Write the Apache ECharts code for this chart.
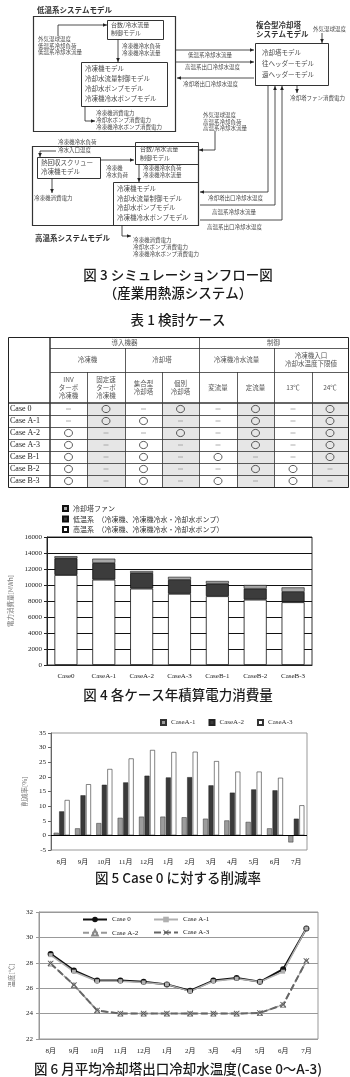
<!DOCTYPE html>
<html>
<head>
<meta charset="utf-8">
<script src="https://cdn.jsdelivr.net/npm/echarts@6/dist/echarts.min.js"></script>
<style>
html,body{margin:0;padding:0;background:#fff}
#main{width:350px;height:1077px}
</style>
</head>
<body>
<div id="main"></div>
<script>
// 図4 各ケース年積算電力消費量 [MWh]
var caseNames = ['Case0', 'CaseA-1', 'CaseA-2', 'CaseA-3', 'CaseB-1', 'CaseB-2', 'CaseB-3'];
var highTempMWh = [11250, 10670, 9550, 8900, 8600, 8170, 7850];
var lowTempMWh = [2100, 2080, 1950, 1750, 1570, 1370, 1300];
var towerFanMWh = [250, 540, 250, 370, 330, 460, 550];

// 図5 削減率 [%]
var months = ['8月', '9月', '10月', '11月', '12月', '1月', '2月', '3月', '4月', '5月', '6月', '7月'];
var cutA1 = [0.9, 2.4, 4.2, 6.0, 6.4, 6.4, 6.2, 5.7, 5.1, 4.6, 2.4, -2.4];
var cutA2 = [8.2, 13.7, 17.3, 18.1, 20.4, 19.8, 19.9, 17.1, 14.6, 15.7, 15.4, 5.7];
var cutA3 = [12.1, 17.5, 22.7, 26.3, 29.2, 28.5, 28.6, 25.4, 21.8, 21.8, 19.7, 10.3];

// 図6 冷却塔出口冷却水温度 [℃]
var tempCase0 = [28.7, 27.4, 26.6, 26.6, 26.5, 26.3, 25.8, 26.6, 26.8, 26.5, 27.5, 30.7];
var tempA1 = [28.6, 27.3, 26.55, 26.55, 26.45, 26.3, 25.75, 26.55, 26.75, 26.5, 27.3, 30.7];
var tempA2 = [27.95, 26.25, 24.25, 24.0, 24.0, 24.0, 24.0, 24.0, 24.0, 24.05, 24.7, 28.15];
var tempA3 = [27.95, 26.25, 24.25, 24.0, 24.0, 24.0, 24.0, 24.0, 24.0, 24.05, 24.7, 28.15];

// 表1 検討ケース
var tableCases = ['Case 0', 'Case A-1', 'Case A-2', 'Case A-3', 'Case B-1', 'Case B-2', 'Case B-3'];
var tableMarks = [
  [0, 1, 0, 1, 0, 1, 0, 1],
  [0, 1, 1, 0, 0, 1, 0, 1],
  [1, 0, 0, 1, 0, 1, 0, 1],
  [1, 0, 1, 0, 0, 1, 0, 1],
  [1, 0, 1, 0, 1, 0, 0, 1],
  [1, 0, 1, 0, 0, 1, 1, 0],
  [1, 0, 1, 0, 1, 0, 1, 0]
];
var headGroup = [['導入機器', 1, 4], ['制御', 5, 8]];
var headSub = [['冷凍機', 1, 2], ['冷却塔', 3, 4], ['冷凍機冷水流量', 5, 6], ['冷凍機入口\n冷却水温度下限値', 7, 8]];
var headItem = ['INV\nターボ\n冷凍機', '固定速\nターボ\n冷凍機', '集合型\n冷却塔', '個別\n冷却塔', '変流量', '定流量', '13℃', '24℃'];

var JP = "'Noto Sans CJK JP'";
var SERIF = "'Liberation Serif', 'Noto Sans CJK JP'";
var LINE = '#333', TXT = '#4a4a4a';

var g = [];

function box(x, y, w, h, lw) {
  g.push({type: 'rect', shape: {x: x + 0.5, y: y + 0.5, width: w, height: h},
    style: {fill: 'none', stroke: LINE, lineWidth: lw || 1}});
}
function t(x, y, s, size, o) {
  o = o || {};
  g.push({type: 'text', x: x, y: y, style: {
    text: s, fontSize: size, fontFamily: o.font || JP, fontWeight: o.weight || 'normal',
    fill: o.color || TXT, align: o.align || 'left', verticalAlign: 'middle', lineHeight: o.lh || size + 2
  }});
}
function lines(x, y0, step, arr, size) {
  arr.forEach(function (s, i) { t(x, y0 + i * step, s, size); });
}
function arrow(pts) {
  var n = pts.length, a = pts[n - 2], b = pts[n - 1];
  var dx = b[0] - a[0], dy = b[1] - a[1], L = Math.sqrt(dx * dx + dy * dy);
  var ux = dx / L, uy = dy / L, h = 4, w = 1.8;
  var bx = b[0] - ux * h, by = b[1] - uy * h;
  g.push({type: 'polyline', shape: {points: pts}, style: {stroke: '#222', lineWidth: 0.8, fill: 'none'}});
  g.push({type: 'polygon', shape: {points: [b, [bx - uy * w, by + ux * w], [bx + uy * w, by - ux * w]]},
    style: {fill: '#222'}});
}
function hline(x1, x2, y, lw, c) {
  g.push({type: 'line', shape: {x1: x1, y1: y, x2: x2, y2: y}, style: {stroke: c || LINE, lineWidth: lw || 0.8}});
}
function vline(x, y1, y2, lw, c) {
  g.push({type: 'line', shape: {x1: x, y1: y1, x2: x, y2: y2}, style: {stroke: c || LINE, lineWidth: lw || 0.8}});
}

// ---- 図3 フロー図 ----
// 低温系
t(37, 10, '低温系システムモデル', 7.5, {weight: 'bold', color: '#333'});
box(33, 16, 142, 115, 1.2);
box(107, 20, 56, 19);
lines(111, 25, 8, ['台数/冷水流量', '制御モデル'], 6);
arrow([[58, 36], [58, 25], [107, 25]]);
lines(38, 39, 6.5, ['外気湿球温度', '低温系冷却負荷', '低温系冷却水流量'], 5.5);
arrow([[118, 39], [118, 62]]);
lines(122, 46, 7, ['冷凍機冷水負荷', '冷凍機冷水流量'], 5.5);
box(81, 62, 86, 44);
lines(85, 68.5, 10, ['冷凍機モデル', '冷却水流量制御モデル', '冷却水ポンプモデル', '冷凍機冷水ポンプモデル'], 6.5);
arrow([[85, 106], [85, 121], [95, 121]]);
lines(96, 113, 7, ['冷凍機消費電力', '冷却水ポンプ消費電力', '冷凍機冷水ポンプ消費電力'], 5.5);

// 複合型冷却塔
t(256, 25, '複合型冷却塔', 7.5, {weight: 'bold', color: '#333'});
t(256, 34, 'システムモデル', 7.5, {weight: 'bold', color: '#333'});
t(313, 29, '外気湿球温度', 5.5);
arrow([[322, 33], [322, 43]]);
box(255, 43, 73, 42);
lines(262, 53, 11, ['冷却塔モデル', '往ヘッダーモデル', '還ヘッダーモデル'], 6.5);
arrow([[176, 50], [254, 50]]);
t(188, 54.5, '低温系冷却水流量', 5.5);
arrow([[176, 62], [254, 62]]);
t(185, 66.5, '高温系出口冷却水温度', 5.5);
arrow([[254, 78], [177, 78]]);
t(183, 84, '冷却塔出口冷却水温度', 5.5);
arrow([[297, 85], [297, 93]]);
t(290, 98, '冷却塔ファン消費電力', 5.5);
arrow([[268, 86], [268, 192], [200, 192]]);
arrow([[200, 205], [275, 205], [275, 86]]);
arrow([[200, 220], [282, 220], [282, 86]]);
t(208, 198, '冷却塔出口冷却水温度', 5.5);
t(212, 212, '高温系冷却水流量', 5.5);
t(207, 227, '高温系出口冷却水温度', 5.5);

// 高温系
lines(203, 115, 6.5, ['外気湿球温度', '高温系冷却負荷', '高温系冷却水流量'], 5.5);
arrow([[215, 131], [215, 150], [199, 150]]);
box(32, 146, 166, 79, 1.2);
lines(58, 141.5, 8, ['冷凍機冷水負荷', '冷水入口温度'], 5.5);
arrow([[56, 151], [40, 151], [40, 157]]);
box(37, 157, 63, 21);
lines(41, 163, 9, ['熱回収スクリュー', '冷凍機モデル'], 6.5);
arrow([[100, 160], [134, 160]]);
lines(106, 168, 7, ['冷凍機', '冷水負荷'], 5.5);
arrow([[52, 178], [52, 193]]);
t(34, 198, '冷凍機消費電力', 5.5);
box(135, 142, 63, 22);
lines(140, 149, 9, ['台数/冷水流量', '制御モデル'], 6);
lines(143, 168, 7, ['冷凍機冷水負荷', '冷凍機冷水流量'], 5.5);
arrow([[139, 164], [139, 182]]);
box(113, 182, 85, 43);
lines(117, 189, 9.5, ['冷凍機モデル', '冷却水流量制御モデル', '冷却水ポンプモデル', '冷凍機冷水ポンプモデル'], 6.5);
arrow([[122, 225], [122, 236], [131, 236]]);
lines(133, 240, 7, ['冷凍機消費電力', '冷却水ポンプ消費電力', '冷凍機冷水ポンプ消費電力'], 5.5);
t(35, 238, '高温系システムモデル', 7.5, {weight: 'bold', color: '#333'});

// ---- キャプション ----
function cap(y, s) { t(178, y, s, 13.5, {align: 'center', color: '#1a1a1a', weight: 500}); }
cap(275, '図 3 シミュレーションフロー図');
cap(293, '（産業用熱源システム）');
cap(320, '表 1 検討ケース');
cap(695, '図 4 各ケース年積算電力消費量');
cap(878, '図 5 Case 0 に対する削減率');
cap(1069, '図 6 月平均冷却塔出口冷却水温度(Case 0～A-3)');

// ---- 表1 ----
var colX = [8, 50, 87, 125, 162, 199, 237, 274, 312, 348];
var rowY = [337, 348, 372, 403];
var RH = 12, tblBottom = 403 + RH * tableCases.length;
[2, 4, 6, 8].forEach(function (c) {
  g.push({type: 'rect', shape: {x: colX[c], y: 403, width: colX[c + 1] - colX[c], height: tblBottom - 403},
    style: {fill: '#e6e6e6'}});
});
function cellText(c0, c1, y0, y1, s) {
  t((colX[c0] + colX[c1 + 1]) / 2, (y0 + y1) / 2, s, 6.5, {align: 'center', color: '#555', lh: 8});
}
headGroup.forEach(function (h) { cellText(h[1], h[2], rowY[0], rowY[1], h[0]); });
headSub.forEach(function (h) { cellText(h[1], h[2], rowY[1], rowY[2], h[0]); });
headItem.forEach(function (s, i) { cellText(i + 1, i + 1, rowY[2], rowY[3], s); });
tableCases.forEach(function (name, r) {
  var cy = 403 + RH * r + RH / 2;
  t(10, cy, name, 8, {font: SERIF, color: '#222'});
  tableMarks[r].forEach(function (m, c) {
    var cx = (colX[c + 1] + colX[c + 2]) / 2;
    if (m) {
      g.push({type: 'ellipse', shape: {cx: cx, cy: cy, rx: 4, ry: 3.6}, style: {fill: 'none', stroke: '#333', lineWidth: 0.8}});
    } else {
      hline(cx - 2.5, cx + 2.5, cy, 0.8, '#999');
    }
  });
});
hline(50, 348, 348.5);
hline(50, 348, 372.5);
hline(8, 348, 403, 1.5);
for (var r = 1; r < tableCases.length; r++) hline(8, 348, 403 + RH * r + 0.5);
vline(50, 337, tblBottom, 1.5);
vline(199.5, 337, tblBottom);
[125, 274].forEach(function (x) { vline(x + 0.5, 348, tblBottom); });
[87, 162, 237, 312].forEach(function (x) { vline(x + 0.5, 372, tblBottom); });
g.push({type: 'rect', shape: {x: 8.5, y: 337.5, width: 340, height: tblBottom - 337},
  style: {fill: 'none', stroke: '#222', lineWidth: 1}});

// ---- チャート ----
var fanName = '冷却塔ファン';
var lowName = '低温系　（冷凍機、冷凍機冷水・冷却水ポンプ）';
var highName = '高温系　（冷凍機、冷凍機冷水・冷却水ポンプ）';
var lab = {fontSize: 7, fontFamily: SERIF, color: '#222'};
function plain(v) { return String(v); }

function lineLegend(name, left, top) {
  return {data: [name], left: left, top: top, padding: 0, itemWidth: 24, itemHeight: 7,
    selectedMode: false, textStyle: {fontSize: 7, fontFamily: SERIF, color: '#222'}};
}

var option = {
  animation: false,
  backgroundColor: '#fff',
  graphic: {elements: g},
  legend: [
    {data: [fanName, lowName, highName], orient: 'vertical', left: 62, top: 505, padding: 0,
      icon: 'rect', itemWidth: 5, itemHeight: 5, itemGap: 3.5, selectedMode: false,
      textStyle: {fontSize: 7, fontFamily: JP, color: '#333'}},
    {data: ['CaseA-1', 'CaseA-2', 'CaseA-3'], left: 160, top: 719, padding: 0,
      icon: 'rect', itemWidth: 5, itemHeight: 5, itemGap: 13, selectedMode: false,
      textStyle: {fontSize: 7, fontFamily: SERIF, color: '#333'}},
    lineLegend('Case 0', 82, 916),
    lineLegend('Case A-1', 153, 916),
    lineLegend('Case A-2', 82, 929),
    lineLegend('Case A-3', 153, 929)
  ],
  grid: [
    {left: 47, top: 537, width: 265, height: 128, show: true, borderColor: '#333', borderWidth: 1, outerBoundsMode: 'none'},
    {left: 51, top: 733, width: 256, height: 117, show: true, borderColor: '#999', borderWidth: 1, outerBoundsMode: 'none'},
    {left: 39, top: 912, width: 279, height: 127, show: true, borderColor: '#999', borderWidth: 1, outerBoundsMode: 'none'}
  ],
  xAxis: [
    {type: 'category', gridIndex: 0, data: caseNames,
      axisLine: {lineStyle: {color: '#222'}}, axisTick: {length: 3, lineStyle: {color: '#222'}},
      axisLabel: Object.assign({margin: 8}, lab)},
    {type: 'category', gridIndex: 1, data: months,
      axisLine: {show: false, onZero: false}, axisTick: {show: false},
      axisLabel: Object.assign({margin: 9}, lab)},
    {type: 'category', gridIndex: 2, data: months,
      axisLine: {show: false}, axisTick: {length: 3, lineStyle: {color: '#888'}},
      axisLabel: Object.assign({margin: 9}, lab)}
  ],
  yAxis: [
    {type: 'value', gridIndex: 0, min: 0, max: 16000, interval: 2000,
      name: '電力消費量[MWh]', nameLocation: 'middle', nameGap: 32,
      nameTextStyle: {fontSize: 6.5, fontFamily: JP, color: '#777'},
      axisLine: {show: true, lineStyle: {color: '#222'}}, axisTick: {show: true, length: 3, lineStyle: {color: '#222'}},
      axisLabel: Object.assign({margin: 5, formatter: plain}, lab),
      splitLine: {lineStyle: {color: '#111', width: 1}}},
    {type: 'value', gridIndex: 1, min: -5, max: 35, interval: 5,
      name: '削減率[%]', nameLocation: 'middle', nameGap: 22,
      nameTextStyle: {fontSize: 6.5, fontFamily: JP, color: '#777'},
      axisLine: {show: true, lineStyle: {color: '#666'}}, axisTick: {show: true, length: 3, lineStyle: {color: '#666'}},
      axisLabel: Object.assign({margin: 5, formatter: plain}, lab),
      splitLine: {show: false}},
    {type: 'value', gridIndex: 2, min: 22, max: 32, interval: 2,
      name: '温度[℃]', nameLocation: 'middle', nameGap: 22,
      nameTextStyle: {fontSize: 6.5, fontFamily: JP, color: '#777'},
      axisLine: {show: true, lineStyle: {color: '#999'}}, axisTick: {show: true, length: 3, lineStyle: {color: '#999'}},
      axisLabel: Object.assign({margin: 6, formatter: plain}, lab),
      splitLine: {lineStyle: {color: '#999', width: 1}}}
  ],
  series: [
    {name: highName, type: 'bar', stack: 'p', xAxisIndex: 0, yAxisIndex: 0, data: highTempMWh, barWidth: 23,
      itemStyle: {color: '#fff', borderColor: '#111', borderWidth: 0.8}},
    {name: lowName, type: 'bar', stack: 'p', xAxisIndex: 0, yAxisIndex: 0, data: lowTempMWh, barWidth: 23,
      itemStyle: {color: '#3c3c3c', borderColor: '#111', borderWidth: 0.8}},
    {name: fanName, type: 'bar', stack: 'p', xAxisIndex: 0, yAxisIndex: 0, data: towerFanMWh, barWidth: 23,
      itemStyle: {color: '#a8a8a8', borderColor: '#111', borderWidth: 0.6}},

    {name: 'CaseA-1', type: 'bar', xAxisIndex: 1, yAxisIndex: 1, data: cutA1, barWidth: 5, barGap: '10%',
      itemStyle: {color: '#9c9c9c', borderColor: '#333', borderWidth: 0.5},
      markLine: {silent: true, symbol: 'none', label: {show: false},
        lineStyle: {color: '#000', type: 'solid', width: 1}, data: [{yAxis: 0}]}},
    {name: 'CaseA-2', type: 'bar', xAxisIndex: 1, yAxisIndex: 1, data: cutA2, barWidth: 5, barGap: '10%',
      itemStyle: {color: '#3a3a3a', borderColor: '#222', borderWidth: 0.5}},
    {name: 'CaseA-3', type: 'bar', xAxisIndex: 1, yAxisIndex: 1, data: cutA3, barWidth: 5, barGap: '10%',
      itemStyle: {color: '#fff', borderColor: '#333', borderWidth: 0.6}},

    {name: 'Case 0', type: 'line', xAxisIndex: 2, yAxisIndex: 2, data: tempCase0,
      symbol: 'circle', symbolSize: 6, lineStyle: {color: '#111', width: 2},
      itemStyle: {color: '#111'}},
    {name: 'Case A-1', type: 'line', xAxisIndex: 2, yAxisIndex: 2, data: tempA1,
      symbol: 'rect', symbolSize: 4, lineStyle: {color: '#b0b0b0', width: 1.5},
      itemStyle: {color: '#b0b0b0'}},
    {name: 'Case A-2', type: 'line', xAxisIndex: 2, yAxisIndex: 2, data: tempA2,
      symbol: 'triangle', symbolSize: 5, lineStyle: {color: '#999', width: 1.5, type: [6, 3]},
      itemStyle: {color: '#fff', borderColor: '#888', borderWidth: 1}},
    {name: 'Case A-3', type: 'line', xAxisIndex: 2, yAxisIndex: 2, data: tempA3,
      symbol: 'path://M0,1L1,0L5,4L9,0L10,1L6,5L10,9L9,10L5,6L1,10L0,9L4,5Z', symbolSize: 6,
      lineStyle: {color: '#666', width: 2, type: [7, 3]},
      itemStyle: {color: '#555'}}
  ]
};

var chart = echarts.init(document.getElementById('main'));
chart.setOption(option);
</script>
</body>
</html>
